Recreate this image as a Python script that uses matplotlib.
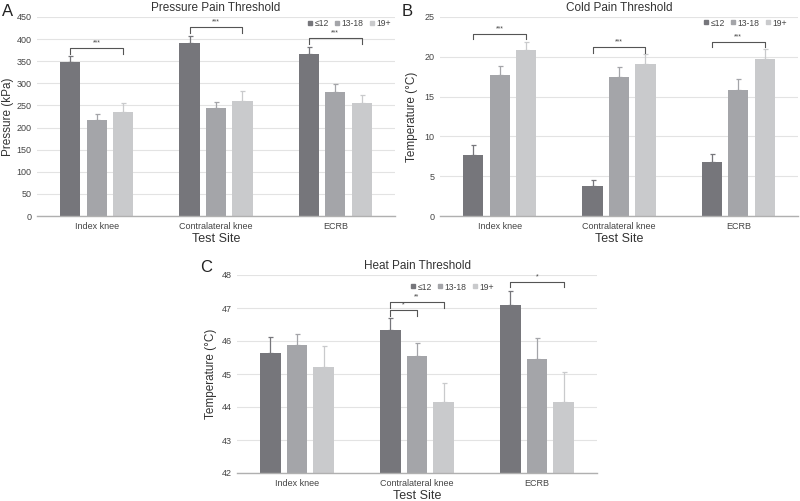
"""
Pain threshold bar charts (pressure, cold, heat) by age group
"""

import numpy as np
import matplotlib.pyplot as plt
from matplotlib.lines import Line2D
from matplotlib.transforms import blended_transform_factory

plt.rcParams['font.family'] = ['Liberation Sans', 'DejaVu Sans']

# ---------------------------------------------------------------------------- #
# Data
# ---------------------------------------------------------------------------- #
sites = ['Index knee', 'Contralateral knee', 'ECRB']
groups = ['≤12', '13-18', '19+']
colours = ['#76767b', '#a4a5a9', '#c9cacc']

pressure_mean = [[348, 218, 235], [392, 245, 259], [366, 280, 255]]
pressure_err = [[14, 13, 20], [16, 12, 24], [16, 19, 19]]

cold_mean = [[7.7, 17.7, 20.9], [3.8, 17.4, 19.1], [6.8, 15.8, 19.7]]
cold_err = [[1.2, 1.1, 1.0], [0.7, 1.3, 1.2], [1.0, 1.4, 1.3]]

heat_mean = [[45.65, 45.87, 45.22], [46.33, 45.55, 44.15], [47.10, 45.45, 44.15]]
heat_err = [[0.46, 0.34, 0.64], [0.37, 0.40, 0.58], [0.42, 0.64, 0.90]]

# (site, group_a, group_b, height, label)
pressure_sig = [(0, 0, 2, 380, '***'), (1, 0, 2, 427, '***'), (2, 0, 2, 402, '***')]
cold_sig = [(0, 0, 2, 22.9, '***'), (1, 0, 2, 21.2, '***'), (2, 0, 2, 21.9, '***')]
heat_sig = [(1, 0, 1, 46.94, '*'), (1, 0, 2, 47.18, '**'), (2, 0, 2, 47.79, '*')]

# ---------------------------------------------------------------------------- #
# Layout (pixels)
# ---------------------------------------------------------------------------- #
W, H = 800, 501
fig = plt.figure(figsize=(W / 100, H / 100), dpi=100)


def px_axes(left, top, right, bottom):
    return fig.add_axes([left / W, 1 - bottom / H, (right - left) / W, (bottom - top) / H])


bar_w = 0.17
step = 0.222


def draw_panel(ax, means, errs, sig, ylim, yticks, title, ylabel, letter,
               letter_xy, legend_xy, ylabel_x):
    means = np.array(means)
    errs = np.array(errs)
    x = np.arange(len(sites))
    for g in range(len(groups)):
        xpos = x + (g - 1) * step
        ax.bar(xpos, means[:, g], width=bar_w, color=colours[g], zorder=2)
        ax.errorbar(xpos, means[:, g], yerr=[np.zeros(len(sites)), errs[:, g]],
                    fmt='none', ecolor=colours[g], elinewidth=0.9, capsize=1.8,
                    capthick=0.9, zorder=3)

    ax.set_xlim(-0.5, 2.5)
    ax.set_ylim(*ylim)
    ax.set_yticks(yticks)
    ax.set_xticks(x)
    ax.set_xticklabels(sites)
    ax.tick_params(length=0, labelsize=6.5, colors='#444444', pad=4)
    ax.grid(axis='y', color='#e3e3e3', linewidth=0.8, zorder=0)
    ax.set_axisbelow(True)
    for s in ['top', 'right', 'left']:
        ax.spines[s].set_visible(False)
    ax.spines['bottom'].set_color('#b0b0b0')
    ax.spines['bottom'].set_linewidth(1.0)

    ax.set_title(title, fontsize=8.5, color='#333333', pad=4)
    ax.set_xlabel('Test Site', fontsize=9, color='#333333', labelpad=2)
    ax.set_ylabel(ylabel, fontsize=8.5, color='#333333', va='center')
    ax.yaxis.set_label_coords(ylabel_x, 0.5,
                              transform=blended_transform_factory(fig.transFigure, ax.transAxes))

    # significance brackets
    span = ylim[1] - ylim[0]
    d = span * 0.028
    for site, ga, gb, h, lab in sig:
        x1 = site + (ga - 1) * step
        x2 = site + (gb - 1) * step
        ax.plot([x1, x1, x2, x2], [h - d, h, h, h - d], color='#555555',
                linewidth=0.8, zorder=4)
        ax.text((x1 + x2) / 2, h + span * 0.008, lab, ha='center', va='bottom',
                fontsize=5, color='#444444')

    handles = [Line2D([], [], marker='s', linestyle='none', markersize=2.3,
                      color=c) for c in colours]
    fig.legend(handles, groups, loc='center left',
               bbox_to_anchor=(legend_xy[0] / W, 1 - legend_xy[1] / H),
               ncol=3, frameon=False, fontsize=6.2, handlelength=0.5,
               handletextpad=0.25, columnspacing=0.7, borderpad=0,
               labelcolor='#444444')

    fig.text(letter_xy[0] / W, 1 - letter_xy[1] / H, letter, fontsize=12,
             color='#222222', ha='left', va='center')


ax_a = px_axes(37, 17, 395, 216)
draw_panel(ax_a, pressure_mean, pressure_err, pressure_sig, (0, 450),
           np.arange(0, 451, 50), 'Pressure Pain Threshold', 'Pressure (kPa)',
           'A', (2, 12), (304, 24), 8 / W)

ax_b = px_axes(440, 17, 798, 216)
draw_panel(ax_b, cold_mean, cold_err, cold_sig, (0, 25),
           np.arange(0, 26, 5), 'Cold Pain Threshold', 'Temperature (°C)',
           'B', (402, 12), (700, 23), 412 / W)

ax_c = px_axes(237, 275, 597, 473)
draw_panel(ax_c, heat_mean, heat_err, heat_sig, (42, 48),
           np.arange(42, 49, 1), 'Heat Pain Threshold', 'Temperature (°C)',
           'C', (200, 267), (407, 287), 211 / W)

fig.savefig('out.png', dpi=100)
plt.close()
